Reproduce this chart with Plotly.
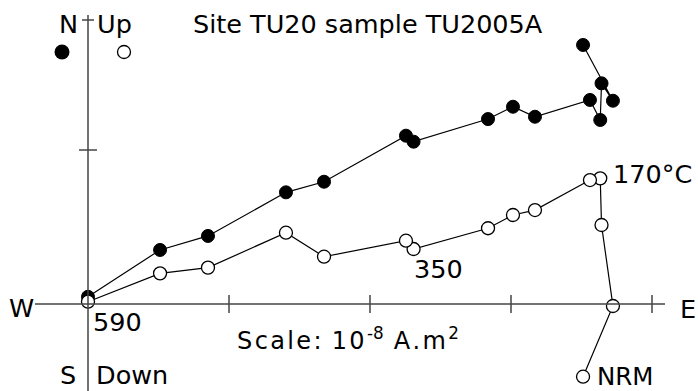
import plotly.graph_objects as go

# Demagnetisation steps (NRM -> 590 C), units of 1e-8 A.m^2
east = [3.511, 3.723, 3.642, 3.633, 3.560, 3.170, 3.014, 2.837, 2.309, 2.255, 1.674, 1.404, 0.851, 0.511, 0.0]
north = [1.682, 1.320, 1.433, 1.195, 1.325, 1.216, 1.281, 1.201, 1.054, 1.093, 0.794, 0.725, 0.442, 0.351, 0.047]
up = [-0.472, -0.013, 0.513, 0.816, 0.805, 0.610, 0.578, 0.492, 0.357, 0.411, 0.307, 0.463, 0.236, 0.199, 0.015]

x_ticks = [1, 2, 3, 4]
y_ticks = [1]

W, H = 698, 391
# pixel geometry: origin at (88, 304); 141 px per x unit, 154 px per y unit
X0, Y0, SX, SY = 88, 304, 141, 154
xr = [-X0 / SX, (W - X0) / SX]
yr = [-(H - Y0) / SY, Y0 / SY]

FONT = "DejaVu Sans"
fig = go.Figure()

ax_col = "#444444"
shapes = []
shapes.append(dict(type="line", x0=(35 - X0) / SX, x1=(665 - X0) / SX, y0=0, y1=0,
                   line=dict(color=ax_col, width=1.5)))
shapes.append(dict(type="line", x0=0, x1=0, y0=(Y0 - 15) / SY, y1=yr[0],
                   line=dict(color=ax_col, width=1.5)))
for t in x_ticks:
    shapes.append(dict(type="line", x0=t, x1=t, y0=-9 / SY, y1=9 / SY,
                       line=dict(color=ax_col, width=1.5)))
for t in y_ticks:
    shapes.append(dict(type="line", x0=-9 / SX, x1=9 / SX, y0=t, y1=t,
                       line=dict(color=ax_col, width=1.5)))
ytop = (Y0 - 20) / SY
shapes.append(dict(type="line", x0=-6 / SX, x1=6 / SX, y0=ytop, y1=ytop,
                   line=dict(color=ax_col, width=1.5)))

fig.add_trace(go.Scatter(x=east, y=north, mode="lines+markers",
                         line=dict(color="black", width=1.2),
                         marker=dict(size=13, color="black", line=dict(color="black", width=1))))
fig.add_trace(go.Scatter(x=east, y=up, mode="lines+markers",
                         line=dict(color="black", width=1.2),
                         marker=dict(size=13, color="white", line=dict(color="black", width=1.3))))

# legend markers
fig.add_trace(go.Scatter(x=[(62 - X0) / SX], y=[(Y0 - 52) / SY], mode="markers",
                         marker=dict(size=15, color="black")))
fig.add_trace(go.Scatter(x=[(124 - X0) / SX], y=[(Y0 - 52) / SY], mode="markers",
                         marker=dict(size=13, color="white", line=dict(color="black", width=1.3))))

def label(text, px, py, size=25.5, anchor="left"):
    fig.add_annotation(x=px / W, y=1 - py / H, xref="paper", yref="paper",
                       text=text, showarrow=False, xanchor=anchor, yanchor="middle",
                       font=dict(family=FONT, size=size, color="black"))

HS = "\u200a"
scale_txt = HS.join("Scale:") + HS + " " + HS.join("10") + HS + "<sup>-8</sup>" + HS + " " + \
    HS.join("A.m") + HS + "<sup>2</sup>"

label("N", 57, 24)
label("Up", 95, 24)
label("Site TU20 sample TU2005A", 191, 24, size=25.5)
label("W", 7, 308)
label("E", 678, 309)
label("S", 58, 375)
label("Down", 94, 375)
label("590", 91, 322)
label("350", 412, 269)
label("170°C", 611, 174)
label("NRM", 595, 376, size=24.5)
label(scale_txt, 235, 339, size=24)

fig.update_layout(width=W, height=H, margin=dict(l=0, r=0, t=0, b=0),
                  paper_bgcolor="white", plot_bgcolor="white", showlegend=False,
                  shapes=shapes,
                  xaxis=dict(range=xr, visible=False, fixedrange=True),
                  yaxis=dict(range=yr, visible=False, fixedrange=True))

fig.write_html("out.html")
